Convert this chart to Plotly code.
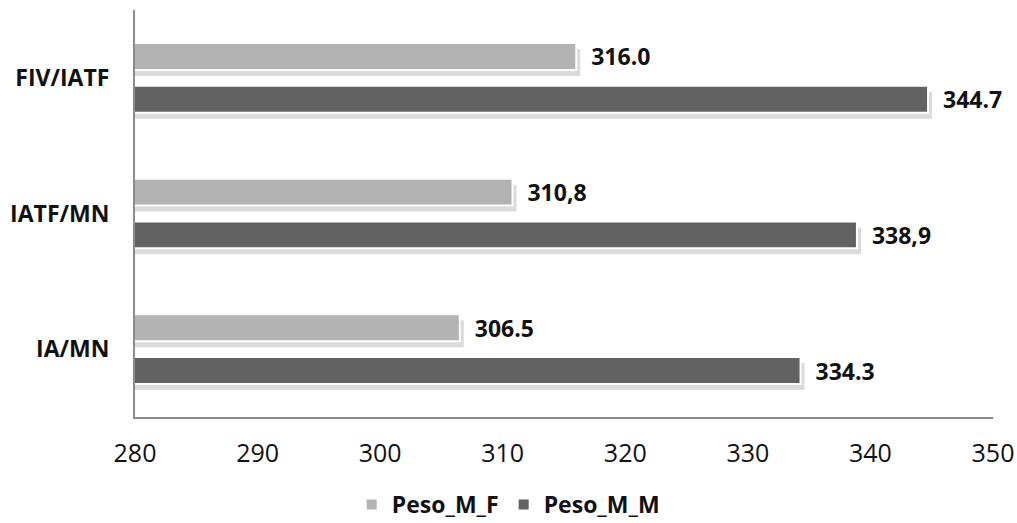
import plotly.graph_objects as go

categories = ["IA/MN", "IATF/MN", "FIV/IATF"]
peso_m_f = [306.5, 310.8, 316.0]
peso_m_m = [334.3, 338.9, 344.7]
labels_f = ["306.5", "310,8", "316.0"]
labels_m = ["334.3", "338,9", "344.7"]
x_ticks = [280, 290, 300, 310, 320, 330, 340, 350]
x_range = [280, 350]

FONT = "'Open Sans', sans-serif"
TEXT = "#111111"
label_font = dict(family=FONT, size=23, color=TEXT, weight="bold")

# plot area in pixels, used to express the drop-shadow offset in axis units
L, R, T, B = 135, 24, 10, 106
W, H = 1017, 523
plot_w = W - L - R
plot_h = H - T - B
shadow_dx = 4 * (x_range[1] - x_range[0]) / plot_w   # 4 px to the right
shadow_dy = 6 * len(categories) / plot_h             # 6 px downward

fig = go.Figure()

# soft drop shadows behind the bars (base axes, shifted range)
for vals in (peso_m_m, peso_m_f):
    fig.add_trace(go.Bar(
        y=categories, x=vals, orientation="h", xaxis="x", yaxis="y",
        marker=dict(color="rgba(0,0,0,0.14)", line=dict(width=0)),
        showlegend=False, hoverinfo="skip",
    ))

# main bars; in horizontal grouped bars the first trace sits lowest in each group
fig.add_trace(go.Bar(
    y=categories, x=peso_m_m, orientation="h", name="Peso_M_M",
    xaxis="x2", yaxis="y2",
    marker=dict(color="#626262", line=dict(color="#ffffff", width=2)),
    text=labels_m, texttemplate="\u00a0\u00a0%{text}",
    textposition="outside", textfont=label_font, constraintext="none",
    cliponaxis=False, legendrank=2,
))
fig.add_trace(go.Bar(
    y=categories, x=peso_m_f, orientation="h", name="Peso_M_F",
    xaxis="x2", yaxis="y2",
    marker=dict(color="#b3b3b3", line=dict(color="#ffffff", width=2)),
    text=labels_f, texttemplate="\u00a0\u00a0%{text}",
    textposition="outside", textfont=label_font, constraintext="none",
    cliponaxis=False, legendrank=1,
))

fig.update_layout(
    width=W, height=H,
    margin=dict(l=L, r=R, t=T, b=B, autoexpand=False),
    paper_bgcolor="white", plot_bgcolor="white",
    barmode="group", bargap=0.37, bargroupgap=0.37,
    font=dict(family=FONT, color=TEXT),
    xaxis=dict(
        range=[x_range[0] - shadow_dx, x_range[1] - shadow_dx],
        visible=False, fixedrange=True,
    ),
    yaxis=dict(
        categoryorder="array", categoryarray=categories,
        range=[-0.5 + shadow_dy, len(categories) - 0.5 + shadow_dy],
        visible=False, fixedrange=True,
    ),
    xaxis2=dict(
        overlaying="x", anchor="y2", side="bottom",
        range=x_range, tickvals=x_ticks, showgrid=False, zeroline=False,
        showline=True, linecolor="#8c8c8c", linewidth=2,
        ticks="", tickfont=dict(family=FONT, size=25, color=TEXT),
        ticklabelstandoff=13,
    ),
    yaxis2=dict(
        overlaying="y", anchor="x2", side="left",
        categoryorder="array", categoryarray=categories,
        range=[-0.5, len(categories) - 0.5],
        showgrid=False, zeroline=False,
        showline=True, linecolor="#8c8c8c", linewidth=2,
        ticks="", tickfont=dict(family=FONT, size=23, color=TEXT, weight="bold"),
        ticklabelstandoff=19,
    ),
    legend=dict(
        orientation="h", x=0.435, xanchor="center", y=-0.215, yanchor="middle",
        font=dict(family=FONT, size=23, color=TEXT, weight="bold"),
        itemwidth=30,
    ),
    showlegend=True,
)

fig.write_html("out.html")
